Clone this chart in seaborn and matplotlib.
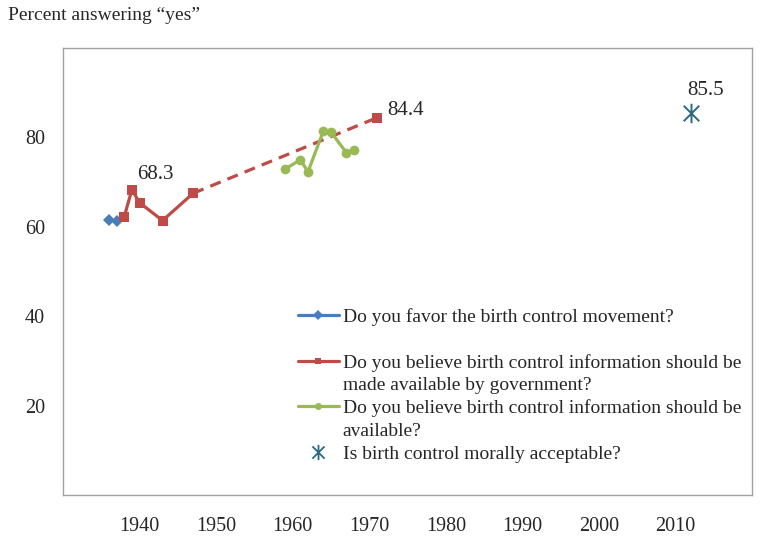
import matplotlib
matplotlib.use("Agg")
import matplotlib.pyplot as plt
from matplotlib.lines import Line2D
from matplotlib.path import Path
import seaborn as sns

# valeurs
annees_mouvement = [1936, 1937]
oui_mouvement = [61.5, 61.3]

annees_gouv = [1938, 1939, 1940, 1943, 1947]
oui_gouv = [62.3, 68.3, 65.4, 61.4, 67.5]
annees_gouv_tirets = [1947, 1971]
oui_gouv_tirets = [67.5, 84.4]

annees_info = [1959, 1961, 1962, 1964, 1965, 1967, 1968]
oui_info = [72.9, 75.0, 72.3, 81.4, 81.2, 76.6, 77.2]

annees_moral = [2012]
oui_moral = [85.5]

graduations_x = [1940, 1950, 1960, 1970, 1980, 1990, 2000, 2010]
graduations_y = [20, 40, 60, 80]

libelles = [
    "Do you favor the birth control movement?",
    "Do you believe birth control information should be",
    "made available by government?",
    "Do you believe birth control information should be",
    "available?",
    "Is birth control morally acceptable?",
]

bleu = "#4A7EBB"
rouge = "#BE4B48"
vert = "#98B954"
bleu_fonce = "#2C6A84"

# marqueur étoile façon Excel : un X plus un trait vertical
etoile = Path([(0, -1), (0, 1), (-0.8, -0.8), (0.8, 0.8), (-0.8, 0.8), (0.8, -0.8)],
              [Path.MOVETO, Path.LINETO] * 3)

sns.set_style("white")
plt.rcParams["font.family"] = ["Liberation Serif", "DejaVu Serif"]

fig = plt.figure(figsize=(7.62, 5.38), dpi=100)
ax = fig.add_axes([0.0827, 0.0799, 0.9042, 0.8309])

sns.lineplot(x=annees_mouvement, y=oui_mouvement, color=bleu, marker="D", markersize=6.5,
             markeredgewidth=0, linewidth=2.3, ax=ax, legend=False)
sns.lineplot(x=annees_gouv_tirets, y=oui_gouv_tirets, color=rouge, linestyle=(0, (3.5, 2.3)),
             linewidth=2.3, ax=ax, legend=False)
sns.lineplot(x=annees_gouv, y=oui_gouv, color=rouge, marker="s", markersize=6.5,
             markeredgewidth=0, linewidth=2.3, ax=ax, legend=False)
sns.lineplot(x=[annees_gouv_tirets[-1]], y=[oui_gouv_tirets[-1]], color=rouge, marker="s",
             markersize=6.5, markeredgewidth=0, linestyle="", ax=ax, legend=False)
sns.lineplot(x=annees_info, y=oui_info, color=vert, marker="o", markersize=7,
             markeredgewidth=0, linewidth=2.3, ax=ax, legend=False)
sns.lineplot(x=annees_moral, y=oui_moral, color=bleu_fonce, marker=etoile, markersize=14,
             markeredgewidth=1.4, markeredgecolor=bleu_fonce, linestyle="", ax=ax, legend=False)

# étiquettes de valeurs
ax.text(1942, 71.8, "68.3", fontsize=15, ha="center", va="center")
ax.text(1974.7, 86.0, "84.4", fontsize=15, ha="center", va="center")
ax.text(2013.9, 90.4, "85.5", fontsize=15, ha="center", va="center")

ax.set_xlim(1930, 2020)
ax.set_ylim(0, 100)
ax.set_xticks(graduations_x)
ax.set_yticks(graduations_y)
ax.tick_params(direction="in", length=4, width=0.8, color="#A0A0A0", labelsize=14.5, pad=16)
ax.tick_params(axis="y", pad=13)
for cote in ax.spines.values():
    cote.set_color("#A0A0A0")
    cote.set_linewidth(1)
ax.set_xlabel("")
ax.set_ylabel("")

fig.text(0.011, 0.972, "Percent answering \u201cyes\u201d", fontsize=14, ha="left", va="center")

# légende faite à la main pour garder les lignes alignées comme dans Excel
vide = Line2D([], [], linestyle="none")
poignees = [
    Line2D([], [], color=bleu, marker="D", markersize=5, markeredgewidth=0, linewidth=2.3),
    vide,
    Line2D([], [], color=rouge, marker="s", markersize=5, markeredgewidth=0, linewidth=2.3),
    vide,
    Line2D([], [], color=vert, marker="o", markersize=5, markeredgewidth=0, linewidth=2.3),
    vide,
    Line2D([], [], color=bleu_fonce, marker=etoile, markersize=11, markeredgewidth=1.3,
           markeredgecolor=bleu_fonce, linestyle=""),
]
textes = [libelles[0], " ", libelles[1], libelles[2], libelles[3], libelles[4], libelles[5]]
ax.legend(poignees, textes, loc="upper left", bbox_to_anchor=(0.341, 0.418), frameon=False,
          fontsize=14, handlelength=2.1, handletextpad=0.2, labelspacing=0.26,
          borderpad=0, borderaxespad=0)

fig.savefig("out.png", dpi=100)
